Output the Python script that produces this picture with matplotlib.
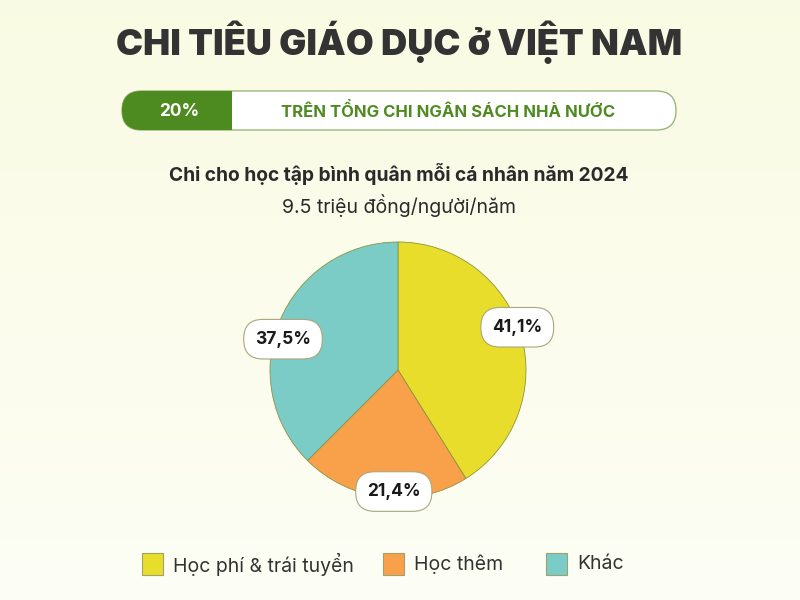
import numpy as np
import matplotlib.pyplot as plt
from matplotlib.patches import FancyBboxPatch, Rectangle

categories = ['Học phí & trái tuyển', 'Học thêm', 'Khác']
shares = [41.1, 21.4, 37.5]
share_labels = ['41,1%', '21,4%', '37,5%']
colors = ['#E9DD2C', '#F9A04B', '#7BCBC6']

title = 'CHI TIÊU GIÁO DỤC ở VIỆT NAM'
badge_value = '20%'
badge_text = 'TRÊN TỔNG CHI NGÂN SÁCH NHÀ NƯỚC'
subtitle = 'Chi cho học tập bình quân mỗi cá nhân năm 2024'
subtitle2 = '9.5 triệu đồng/người/năm'

W, H = 800, 600
fig = plt.figure(figsize=(8, 6), dpi=100)

# background axes in pixel coordinates (y down)
bg = fig.add_axes([0, 0, 1, 1])
bg.set_xlim(0, W)
bg.set_ylim(H, 0)
bg.axis('off')
grad = np.linspace(0, 1, 256).reshape(-1, 1)
top = np.array([0.980, 0.984, 0.890])
bot = np.array([0.992, 0.996, 0.960])
img = top + (bot - top) * grad[..., None]
bg.imshow(img, extent=[0, W, H, 0], aspect='auto', zorder=0)

font = ['Inter', 'DejaVu Sans']

bg.text(399, 42, title, ha='center', va='center', fontsize=26, fontweight='black',
        color='#333333', family=font)

# badge
green = '#4D8A1F'
bg.add_patch(FancyBboxPatch((122, 91), 554, 39, boxstyle='round,pad=0,rounding_size=19.5',
                            fc='white', ec='#9BB77A', lw=1, zorder=2))
bg.add_patch(FancyBboxPatch((122, 91), 110, 39, boxstyle='round,pad=0,rounding_size=19.5',
                            fc=green, ec='none', zorder=3))
bg.add_patch(Rectangle((195, 91), 37, 39, fc=green, ec='none', zorder=3))
bg.text(179, 111, badge_value, ha='center', va='center', fontsize=12.5, fontweight='bold',
        color='white', family=font, zorder=4)
bg.text(448, 111, badge_text, ha='center', va='center', fontsize=12, fontweight='bold',
        color=green, family=font, zorder=4)

bg.text(399, 174, subtitle, ha='center', va='center', fontsize=13.8, fontweight='bold',
        color='#2a2a2a', family=font)
bg.text(399, 206, subtitle2, ha='center', va='center', fontsize=14,
        color='#2a2a2a', family=font)

# pie
cx, cy, r = 398, 370, 128
ax = fig.add_axes([(cx - r) / W, (H - cy - r) / H, 2 * r / W, 2 * r / H])
wedges, _ = ax.pie(shares, colors=colors, startangle=90, counterclock=False, radius=1,
                   wedgeprops=dict(ec='#8C9440', lw=0.6))
ax.set_xlim(-1, 1)
ax.set_ylim(-1, 1)
ax.axis('off')

# label placement: (angle shift in degrees, distance from centre)
offsets = [(3.7, 0.99), (4.5, 0.95), (7.5, 0.93)]
for w, lab, (dang, dist) in zip(wedges, share_labels, offsets):
    ang = np.deg2rad((w.theta1 + w.theta2) / 2 + dang)
    x, y = dist * np.cos(ang), dist * np.sin(ang)
    ax.text(x, y, lab, ha='center', va='center', fontsize=12.5, fontweight='bold',
            color='#1a1a1a', family=font, clip_on=False, zorder=5,
            bbox=dict(boxstyle='round,pad=0.65,rounding_size=1.1', fc='white', ec='#A7A77A', lw=0.8))

# legend
leg_x = [142, 383, 546]
for x0, lab, c in zip(leg_x, categories, colors):
    bg.add_patch(Rectangle((x0, 553), 21, 22, fc=c, ec='#A0A070', lw=0.8, zorder=3))
    bg.text(x0 + 31, 564, lab, ha='left', va='center', fontsize=14, color='#333333', family=font)

fig.savefig('out.png', dpi=100)
